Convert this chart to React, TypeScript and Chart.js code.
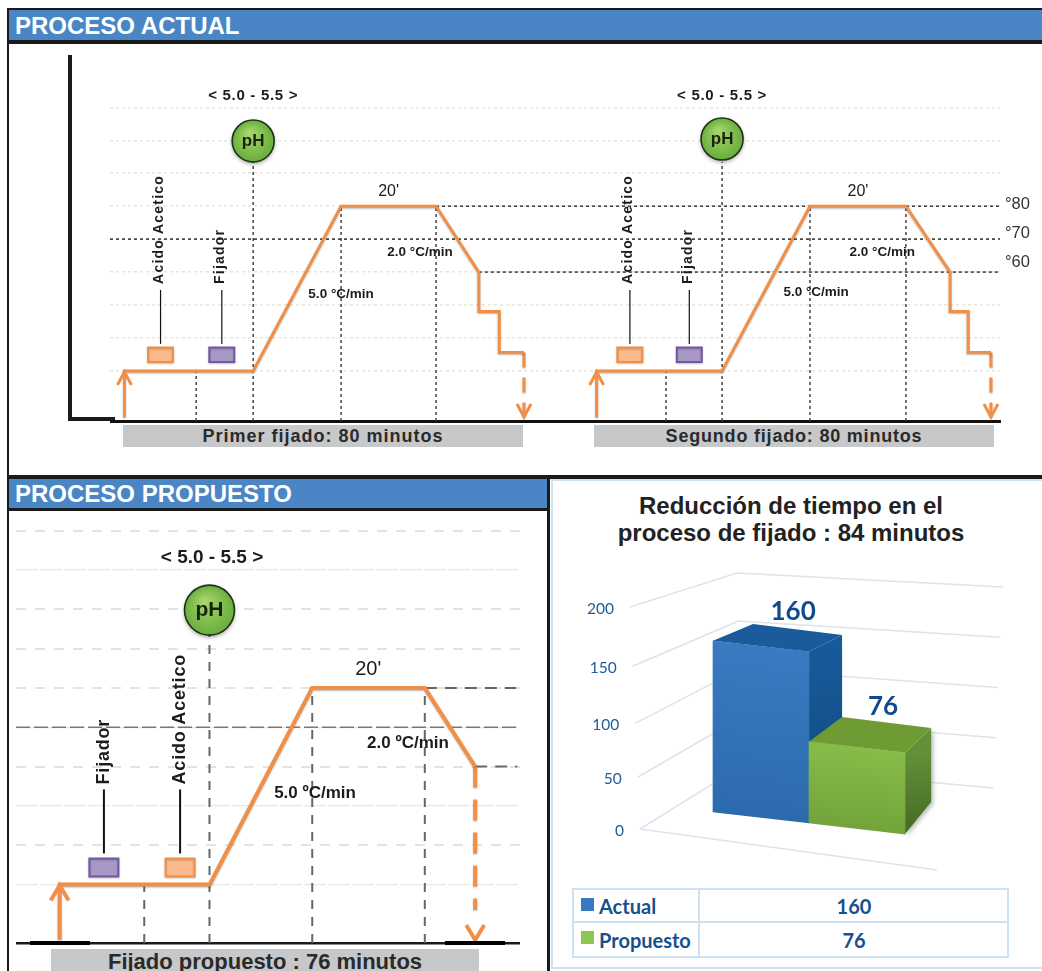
import React, { useEffect, useRef } from "react";
import { Chart, registerables } from "chart.js";

Chart.register(...registerables);

// Temperature profiles: elapsed minutes against bath temperature.
const firstRunMinutes = [0, 27.4, 45.9, 65.9, 74.9, 74.9, 79.2, 79.2, 84.4];
const secondRunMinutes = [99.4, 126.1, 144.6, 164.8, 174.1, 174.1, 177.9, 177.9, 182.7];
const fixingRunTemps = [30, 30, 80, 80, 60, 48, 48, 35.6, 35.6];
const proposedMinutes = [0, 27.1, 45.4, 65.5, 74.5];
const proposedTemps = [30, 30, 80, 80, 60];

// Dark reference levels and vertical guides.
const currentLevelTemps = [80, 80, 70, 60];
const currentLevelStarts = [65.9, 164.8, -2.74, 74.9];
const currentLevelEnds = [144.6, 184.6, 184.6, 184.6];
const currentGuideMinutes = [15.4, 27.4, 45.9, 65.9, 114.3, 126.1, 144.6, 164.8];
const currentGuideTemps = [30, 93.4, 80, 80, 30, 93.4, 80, 80];
const proposedLevelTemps = [80, 70, 60];
const proposedLevelStarts = [65.5, -7.5, 74.5];
const proposedLevelEnds = [81.8, 82.5, 82];
const proposedGuideMinutes = [15.4, 27.05, 45.4, 65.5];
const proposedGuideTemps = [30, 103, 80, 80];

// Dosing and labels.
const reagentNames = ["Acido Acetico", "Fijador"];
const firstRunReagentMinutes = [7.9, 20.8];
const secondRunReagentMinutes = [106.7, 119.2];
const proposedReagentMinutes = [21.8, 8.2];
const phRange = "< 5.0 - 5.5 >";
const heatingRate = "5.0 °C/min";
const coolingRate = "2.0 °C/min";
const proposedHeatingRate = "5.0 ºC/min";
const proposedCoolingRate = "2.0 ºC/min";
const holdLabel = "20'";
const temperatureLabels = ["°80", "°70", "°60"];

// Total process time comparison.
const processNames = ["Actual", "Propuesto"];
const processMinutes = [160, 76];

const ORANGE = "#F08F45";
const SANS = '"Liberation Sans", Arial, sans-serif';
const LATO = "Lato, sans-serif";
const BLUE_TEXT = "#17508F";

type Dosing = { minutes: number[] };
type PanelOptions = {
  xMin: number; xMax: number; yMin: number; yMax: number; gridTop: number; padRight: number;
  runs: { minutes: number[]; temps: number[] }[];
  stemFloor: number; dropFloor: number; dropDash: number[]; lineWidth: number;
  levels: { temps: number[]; starts: number[]; ends: number[] };
  guides: { minutes: number[]; temps: number[] };
  levelStyle: (t: number) => { color: string; dash: number[]; width: number };
  guideStyle: { color: string; dash: number[]; width: number };
  gridStyle: (t: number) => { color: string; dash: number[]; width: number };
  axisWidth: number; axisColor: string;
  dosing: Dosing[];
  kit: any;
  texts: { text: string; m: number; t: number; font: string; spacing?: string }[];
  ph: { m: number; t: number }[];
  rightLabels?: boolean;
};

function chevron(ctx: CanvasRenderingContext2D, x: number, y: number, half: number, len: number, dir: number, width: number) {
  ctx.save();
  ctx.strokeStyle = ORANGE;
  ctx.lineWidth = width;
  ctx.lineJoin = "miter";
  ctx.beginPath();
  ctx.moveTo(x - half, y + dir * len);
  ctx.lineTo(x, y);
  ctx.lineTo(x + half, y + dir * len);
  ctx.stroke();
  ctx.restore();
}

function panelConfig(o: PanelOptions): any {
  const datasets: any[] = [];
  o.runs.forEach((run) => {
    datasets.push({
      label: "run",
      data: run.minutes.map((m, i) => ({ x: m, y: run.temps[i] })),
      borderColor: ORANGE, borderWidth: o.lineWidth, pointRadius: 0, tension: 0,
      borderJoinStyle: "miter", borderCapStyle: "butt",
    });
    const first = run.minutes[0];
    const last = run.minutes[run.minutes.length - 1];
    const lastT = run.temps[run.temps.length - 1];
    datasets.push({
      label: "run",
      data: [{ x: first + 0.3, y: o.stemFloor }, { x: first + 0.3, y: 30 }],
      borderColor: ORANGE, borderWidth: o.lineWidth, pointRadius: 0,
    });
    datasets.push({
      label: "run",
      data: [{ x: last, y: lastT }, { x: last, y: o.dropFloor }],
      borderColor: ORANGE, borderWidth: o.lineWidth, pointRadius: 0, borderDash: o.dropDash,
    });
  });
  o.levels.temps.forEach((t, i) => {
    const s = o.levelStyle(t);
    datasets.push({
      label: "level",
      data: [{ x: o.levels.starts[i], y: t }, { x: o.levels.ends[i], y: t }],
      borderColor: s.color, borderWidth: s.width, borderDash: s.dash, pointRadius: 0,
    });
  });
  o.guides.minutes.forEach((m, i) => {
    datasets.push({
      label: "guide",
      data: [{ x: m, y: o.yMin }, { x: m, y: o.guides.temps[i] }],
      borderColor: o.guideStyle.color, borderWidth: o.guideStyle.width, borderDash: o.guideStyle.dash, pointRadius: 0,
    });
  });

  const decorations = {
    id: "processDecorations",
    beforeDatasetDraw(chart: any, args: any) {
      const ds = chart.data.datasets[args.index];
      chart.ctx.save();
      if (ds.label === "run") {
        chart.ctx.shadowColor = "rgba(0,0,0,0.28)";
        chart.ctx.shadowBlur = 2;
        chart.ctx.shadowOffsetY = 1;
      }
    },
    afterDatasetDraw(chart: any) {
      chart.ctx.restore();
    },
    afterDatasetsDraw(chart: any) {
      const ctx: CanvasRenderingContext2D = chart.ctx;
      const xs = chart.scales.x;
      const ys = chart.scales.y;
      const k = o.kit;
      const base = ys.getPixelForValue(30);

      o.runs.forEach((run) => {
        const last = run.minutes.length - 1;
        chevron(ctx, xs.getPixelForValue(run.minutes[0] + 0.3), base + 1, k.arrowHalf, k.arrowLen, 1, o.lineWidth);
        chevron(ctx, xs.getPixelForValue(run.minutes[last]), ys.getPixelForValue(o.dropFloor) + k.dropTip, k.arrowHalf, k.arrowLen, -1, o.lineWidth);
      });

      o.dosing.forEach((group) => {
        group.minutes.forEach((m, i) => {
          const x = xs.getPixelForValue(m);
          const name = reagentNames[i];
          const isAcid = i === 0;
          ctx.save();
          ctx.fillStyle = isAcid ? "#FBB98C" : "#A898C6";
          ctx.strokeStyle = isAcid ? ORANGE : "#7158A3";
          ctx.lineWidth = 2;
          ctx.shadowColor = "rgba(0,0,0,0.2)";
          ctx.shadowBlur = 2;
          ctx.shadowOffsetY = 1;
          ctx.beginPath();
          ctx.rect(x - k.boxW / 2, base + k.boxTop, k.boxW, k.boxBottom - k.boxTop);
          ctx.fill();
          ctx.stroke();
          ctx.restore();

          ctx.save();
          ctx.strokeStyle = "#111";
          ctx.lineWidth = k.leaderWidth;
          ctx.beginPath();
          ctx.moveTo(x, base + k.leadBottom);
          ctx.lineTo(x, base + k.leadTop);
          ctx.stroke();
          ctx.translate(x - k.nameShift, base + k.nameEnd);
          ctx.rotate(-Math.PI / 2);
          ctx.font = k.nameFont;
          (ctx as any).letterSpacing = k.nameSpacing;
          ctx.fillStyle = "#1c1c1c";
          ctx.textAlign = "left";
          ctx.textBaseline = "middle";
          ctx.fillText(name, 0, 0);
          ctx.restore();
        });
      });

      o.ph.forEach((p) => {
        const x = xs.getPixelForValue(p.m);
        const y = ys.getPixelForValue(p.t);
        ctx.save();
        const g = ctx.createRadialGradient(x - k.phR * 0.2, y - k.phR * 0.4, 1, x, y, k.phR);
        g.addColorStop(0, "#A8D66A");
        g.addColorStop(1, "#68AE3C");
        ctx.shadowColor = "rgba(0,0,0,0.4)";
        ctx.shadowBlur = 4;
        ctx.shadowOffsetY = 2;
        ctx.fillStyle = g;
        ctx.beginPath();
        ctx.arc(x, y, k.phR, 0, Math.PI * 2);
        ctx.fill();
        ctx.shadowColor = "transparent";
        ctx.strokeStyle = "#1D3316";
        ctx.lineWidth = 1.6;
        ctx.stroke();
        ctx.fillStyle = "#16240F";
        ctx.font = k.phFont;
        ctx.textAlign = "center";
        ctx.textBaseline = "middle";
        ctx.fillText("pH", x, y);
        ctx.restore();
      });

      ctx.save();
      ctx.fillStyle = "#1c1c1c";
      ctx.textAlign = "center";
      ctx.textBaseline = "middle";
      o.texts.forEach((t) => {
        ctx.font = t.font;
        (ctx as any).letterSpacing = t.spacing || "0px";
        ctx.fillText(t.text, xs.getPixelForValue(t.m), ys.getPixelForValue(t.t));
      });
      (ctx as any).letterSpacing = "0px";
      if (o.rightLabels) {
        ctx.textAlign = "left";
        ctx.font = `16.5px ${SANS}`;
        ctx.fillStyle = "#333";
        const right = chart.chartArea.right + 5;
        [80.4, 71.6, 62.8].forEach((t, i) => ctx.fillText(temperatureLabels[i], right, ys.getPixelForValue(t)));
      }
      ctx.restore();
    },
  };

  return {
    type: "line",
    data: { datasets },
    options: {
      animation: false,
      responsive: false,
      parsing: true,
      layout: { padding: { left: 0, top: 0, right: o.padRight, bottom: 4 } },
      plugins: { legend: { display: false }, tooltip: { enabled: false } },
      scales: {
        x: {
          type: "linear",
          min: o.xMin,
          max: o.xMax,
          grid: { display: false },
          ticks: { display: false },
          border: { display: true, color: o.axisColor, width: o.axisWidth },
          afterFit: (s: any) => { s.height = 0; },
        },
        y: {
          type: "linear",
          min: o.yMin,
          max: o.yMax,
          afterBuildTicks: (s: any) => {
            s.ticks = s.ticks.filter((t: any) => t.value >= 30 && t.value <= o.gridTop && t.value % 10 === 0);
          },
          afterFit: (s: any) => { s.width = 0; },
          ticks: { display: false, stepSize: 10, autoSkip: false },
          grid: {
            drawTicks: false,
            color: (c: any) => o.gridStyle(c.tick?.value).color,
            lineWidth: (c: any) => o.gridStyle(c.tick?.value).width,
          },
          border: { display: false, dash: (c: any) => o.gridStyle(c.tick?.value).dash },
        },
      },
    },
    plugins: [decorations],
  };
}

const currentPanel = (): any =>
  panelConfig({
    xMin: -2.74, xMax: 184.6, yMin: 14.8, yMax: 127.4, gridTop: 110, padRight: 42,
    runs: [
      { minutes: firstRunMinutes, temps: fixingRunTemps },
      { minutes: secondRunMinutes, temps: fixingRunTemps },
    ],
    stemFloor: 15.9, dropFloor: 16, dropDash: [15, 10], lineWidth: 3,
    levels: { temps: currentLevelTemps, starts: currentLevelStarts, ends: currentLevelEnds },
    guides: { minutes: currentGuideMinutes, temps: currentGuideTemps },
    levelStyle: () => ({ color: "#333", dash: [3, 3], width: 1.5 }),
    guideStyle: { color: "#444", dash: [3, 3], width: 1.5 },
    gridStyle: () => ({ color: "#E7E6D9", dash: [3, 3], width: 1.5 }),
    axisWidth: 3, axisColor: "#111",
    dosing: [{ minutes: firstRunReagentMinutes }, { minutes: secondRunReagentMinutes }],
    kit: {
      arrowHalf: 7, arrowLen: 13, dropTip: 0, boxW: 25, boxTop: -23.5, boxBottom: -9,
      leadBottom: -27, leadTop: -81, leaderWidth: 1.2, nameEnd: -87, nameShift: 1.5,
      nameFont: `bold 14px ${SANS}`, nameSpacing: "1.2px", phR: 21, phFont: `bold 17px ${SANS}`,
    },
    texts: [
      { text: phRange, m: 27.4, t: 113.4, font: `bold 15px ${SANS}`, spacing: "0.7px" },
      { text: phRange, m: 126.1, t: 113.4, font: `bold 15px ${SANS}`, spacing: "0.7px" },
      { text: holdLabel, m: 55.9, t: 84.4, font: `16px ${SANS}` },
      { text: holdLabel, m: 154.7, t: 84.4, font: `16px ${SANS}` },
      { text: coolingRate, m: 62.5, t: 66, font: `bold 13.5px ${SANS}` },
      { text: coolingRate, m: 159.8, t: 66, font: `bold 13.5px ${SANS}` },
      { text: heatingRate, m: 45.9, t: 53.3, font: `bold 13.5px ${SANS}` },
      { text: heatingRate, m: 145.9, t: 53.9, font: `bold 13.5px ${SANS}` },
    ],
    ph: [{ m: 27.4, t: 99.8 }, { m: 126.1, t: 100.4 }],
    rightLabels: true,
  });

const proposedPanel = (): any =>
  panelConfig({
    xMin: -7.5, xMax: 82.5, yMin: 15.1, yMax: 124, gridTop: 120, padRight: 0,
    runs: [{ minutes: proposedMinutes, temps: proposedTemps }],
    stemFloor: 15.9, dropFloor: 23.5, dropDash: [21, 12], lineWidth: 4,
    levels: { temps: proposedLevelTemps, starts: proposedLevelStarts, ends: proposedLevelEnds },
    guides: { minutes: proposedGuideMinutes, temps: proposedGuideTemps },
    levelStyle: (t) =>
      t === 70 ? { color: "#777", dash: [14, 4], width: 1.5 } : { color: "#666", dash: [12, 8], width: 2 },
    guideStyle: { color: "#666", dash: [9, 8], width: 2 },
    gridStyle: (t) => {
      const thin = t === 110 || t === 50 || t === 30 || t === 70;
      return thin
        ? { color: "#E9E8DC", dash: [22, 2], width: 1.2 }
        : { color: "#E6E4D6", dash: [10, 9], width: 2 };
    },
    axisWidth: 2.5, axisColor: "#1a1a1a",
    dosing: [{ minutes: proposedReagentMinutes }],
    kit: {
      arrowHalf: 9, arrowLen: 15, dropTip: 30, boxW: 29, boxTop: -26, boxBottom: -8,
      leadBottom: -31, leadTop: -95, leaderWidth: 2, nameEnd: -100, nameShift: 0,
      nameFont: `bold 18px ${SANS}`, nameSpacing: "0.8px", phR: 25, phFont: `bold 21px ${SANS}`,
    },
    texts: [
      { text: phRange, m: 27.5, t: 113.1, font: `bold 19px ${SANS}` },
      { text: holdLabel, m: 55.4, t: 84.8, font: `20px ${SANS}` },
      { text: proposedCoolingRate, m: 62.5, t: 66, font: `bold 17px ${SANS}` },
      { text: proposedHeatingRate, m: 45.9, t: 53.3, font: `bold 17px ${SANS}` },
    ],
    ph: [{ m: 27.05, t: 99.8 }],
  });

// Oblique bar chart: the library draws the front faces under a shear,
// the plugin adds the top and side faces and the receding grid.
const SHEAR = 0.115;
const CANVAS_LEFT = 570;
const CANVAS_TOP = 560;
const BASE_PAGE_X = 809;

const shearY = (x: number, y: number) => y + SHEAR * (x - (BASE_PAGE_X - CANVAS_LEFT));
const depth = (x: number, value: number) => ({
  dx: 40 - (x + CANVAS_LEFT - 713) * 0.072,
  dy: -32 + 0.095 * value,
});

function mix(a: number[], b: number[], t: number) {
  return [a[0] + (b[0] - a[0]) * t, a[1] + (b[1] - a[1]) * t];
}

function poly(ctx: CanvasRenderingContext2D, pts: number[][], fill: any) {
  ctx.fillStyle = fill;
  ctx.beginPath();
  pts.forEach((p, i) => (i ? ctx.lineTo(p[0], p[1]) : ctx.moveTo(p[0], p[1])));
  ctx.closePath();
  ctx.fill();
}

const frontFill = (c: any) => {
  const g = c.chart.ctx.createLinearGradient(0, 60, 0, 290);
  if (c.dataIndex === 0) {
    g.addColorStop(0, "#3C7DC4");
    g.addColorStop(1, "#2968AA");
  } else {
    g.addColorStop(0.35, "#92C850");
    g.addColorStop(1, "#6C9C37");
  }
  return g;
};

// The near edge of the side wall foreshortens slightly towards the top.
const nearEdgeFraction = (f: number) => f - 0.04 * Math.sin(Math.PI * f) * 0.6;

const barFaces = {
  id: "barFaces",
  beforeDatasetsDraw(chart: any) {
    const ctx: CanvasRenderingContext2D = chart.ctx;
    const ys = chart.scales.y;
    const page = (p: number[]) => [p[0] - CANVAS_LEFT, p[1] - CANVAS_TOP];
    const frontLeft = [page([640, 829]), page([630, 607])];
    const backLeft = [page([743, 765]), page([737, 573])];
    const backRight = [page([993, 788]), page([1003, 587])];
    ctx.save();
    ctx.strokeStyle = "#DDE2EC";
    ctx.lineWidth = 1.5;
    ys.ticks.forEach((tick: any) => {
      const f = tick.value / 200;
      const a = mix(frontLeft[0], frontLeft[1], nearEdgeFraction(f));
      const b = mix(backLeft[0], backLeft[1], f);
      const c = mix(backRight[0], backRight[1], f);
      ctx.beginPath();
      ctx.moveTo(a[0], a[1]);
      ctx.lineTo(b[0], b[1]);
      ctx.lineTo(c[0], c[1]);
      ctx.stroke();
      ctx.save();
      ctx.fillStyle = "#1F5C99";
      ctx.font = `15.5px ${LATO}`;
      ctx.textAlign = "right";
      ctx.textBaseline = "middle";
      ctx.fillText(String(tick.value), a[0] - 16, a[1] + 1.5);
      ctx.restore();
    });
    const floorEnd = page([937, 870]);
    ctx.beginPath();
    ctx.moveTo(frontLeft[0][0], frontLeft[0][1]);
    ctx.lineTo(floorEnd[0], floorEnd[1]);
    ctx.stroke();
    ctx.restore();

    const meta = chart.getDatasetMeta(0);
    meta.data.forEach((bar: any, i: number) => {
      const value = processMinutes[i];
      const l = bar.x - bar.width / 2;
      const r = bar.x + bar.width / 2;
      const top = bar.y;
      const base = bar.base;
      const dL = depth(l, value);
      const dR = depth(r, value);
      const dB = depth(r, 0);
      const tl = [l, shearY(l, top)];
      const tr = [r, shearY(r, top)];
      const br = [r, shearY(r, base)];
      const topFace = [tl, tr, [r + dR.dx, tr[1] + dR.dy], [l + dL.dx, tl[1] + dL.dy]];
      const sideFace = [tr, br, [r + dB.dx, br[1] + dB.dy], [r + dR.dx, tr[1] + dR.dy]];
      const side = ctx.createLinearGradient(0, tr[1], 0, br[1]);
      side.addColorStop(0, i === 0 ? "#175A99" : "#64903A");
      side.addColorStop(1, i === 0 ? "#10487E" : "#456A24");
      ctx.save();
      if (i === 1) {
        ctx.shadowColor = "rgba(60,70,50,0.35)";
        ctx.shadowBlur = 4;
        ctx.shadowOffsetX = 2;
        ctx.shadowOffsetY = 2;
      }
      poly(ctx, sideFace, side);
      ctx.restore();
      poly(ctx, topFace, i === 0 ? "#1B5B9C" : "#6F9B35");
    });
  },
  beforeDatasetDraw(chart: any) {
    const ctx = chart.ctx;
    ctx.save();
    const x0 = BASE_PAGE_X - CANVAS_LEFT;
    ctx.transform(1, SHEAR, 0, 1, 0, -SHEAR * x0);
  },
  afterDatasetDraw(chart: any) {
    chart.ctx.restore();
  },
  afterDatasetsDraw(chart: any) {
    const ctx: CanvasRenderingContext2D = chart.ctx;
    const meta = chart.getDatasetMeta(0);
    ctx.save();
    ctx.fillStyle = "#114B8A";
    ctx.font = `bold 26px ${LATO}`;
    ctx.textAlign = "center";
    ctx.textBaseline = "middle";
    meta.data.forEach((bar: any, i: number) => {
      const v = processMinutes[i];
      const d = depth(bar.x, v);
      ctx.fillText(String(v), bar.x + d.dx * 0.88, shearY(bar.x, bar.y) + d.dy - (14 + v * 0.025));
    });
    ctx.restore();
  },
};

const comparisonChart = (): any => ({
  type: "bar",
  data: {
    labels: processNames,
    datasets: [
      {
        data: processMinutes,
        backgroundColor: frontFill,
        borderWidth: 0,
        categoryPercentage: 1,
        barPercentage: 1,
        clip: false,
      },
    ],
  },
  options: {
    animation: false,
    responsive: false,
    layout: { padding: { left: 143, right: 125, top: 49, bottom: 57 } },
    plugins: { legend: { display: false }, tooltip: { enabled: false } },
    scales: {
      x: { display: false },
      y: { display: false, min: 0, max: 200, ticks: { stepSize: 50 } },
    },
  },
  plugins: [barFaces],
});

function ChartCanvas({ left, top, width, height, build }: { left: number; top: number; width: number; height: number; build: () => any }) {
  const ref = useRef<HTMLCanvasElement>(null);
  useEffect(() => {
    const chart = new Chart(ref.current as HTMLCanvasElement, build());
    return () => chart.destroy();
  }, []);
  return <canvas ref={ref} width={width} height={height} style={{ position: "absolute", left, top, width, height, display: "block" }} />;
}

const Box = ({ l, t, w, h, c }: { l: number; t: number; w: number; h: number; c: string }) => (
  <div style={{ position: "absolute", left: l, top: t, width: w, height: h, background: c }} />
);

const Caption = ({ l, t, w, h, text, size, spacing, line }: { l: number; t: number; w: number; h: number; text: string; size: number; spacing: number; line?: number }) => (
  <div
    style={{
      position: "absolute", left: l, top: t, width: w, height: h, lineHeight: `${line || h}px`, background: "#C6C8CA",
      textAlign: "center", fontFamily: SANS, fontWeight: 700, fontSize: size, letterSpacing: spacing, color: "#2A2A2A", overflow: "hidden",
    }}
  >
    {text}
  </div>
);

const Header = ({ l, t, w, h, text }: { l: number; t: number; w: number; h: number; text: string }) => (
  <div
    style={{
      position: "absolute", left: l, top: t, width: w, height: h, lineHeight: `${h + 1}px`, background: "#4A86C5",
      color: "#fff", fontFamily: SANS, fontWeight: 700, fontSize: 24, paddingLeft: 6, boxSizing: "border-box", whiteSpace: "nowrap",
    }}
  >
    {text}
  </div>
);

const Cell = ({ l, t, w, text, align }: { l: number; t: number; w: number; text: string; align: "left" | "center" }) => (
  <div
    style={{
      position: "absolute", left: l, top: t, width: w, height: 34, lineHeight: "34px", textAlign: align,
      fontFamily: LATO, fontWeight: 700, fontSize: 20, color: BLUE_TEXT, whiteSpace: "nowrap",
    }}
  >
    {text}
  </div>
);

export default function App() {
  const tableLine = "#CFE0F0";
  return (
    <div style={{ position: "absolute", left: 0, top: 0, width: 1042, height: 971, overflow: "hidden", background: "#fff" }}>
      {/* Frame of the upper section */}
      <Box l={7} t={8} w={1035} h={2} c="#1a1a1a" />
      <Box l={7} t={8} w={2} h={963} c="#1a1a1a" />
      <Header l={9} t={10} w={1033} h={30} text="PROCESO ACTUAL" />
      <Box l={9} t={40} w={1033} h={4} c="#1a1a1a" />
      <Box l={9} t={475} w={1033} h={4} c="#1a1a1a" />

      {/* Axis of the upper section */}
      <Box l={68} t={55} w={4} h={366} c="#1a1a1a" />
      <Box l={68} t={417} w={47} h={4} c="#1a1a1a" />
      <ChartCanvas left={110} top={50} width={932} height={375} build={currentPanel} />
      <Caption l={123} t={425} w={400} h={22} text="Primer fijado: 80 minutos" size={18} spacing={1} />
      <Caption l={594} t={425} w={400} h={22} text="Segundo fijado: 80 minutos" size={18} spacing={0.8} />

      {/* Proposed process */}
      <Header l={9} t={479} w={538} h={29} text="PROCESO PROPUESTO" />
      <Box l={9} t={508} w={538} h={3} c="#1a1a1a" />
      <Box l={547} t={479} w={3} h={492} c="#1a1a1a" />
      <ChartCanvas left={16} top={515} width={504} height={432} build={proposedPanel} />
      <Box l={30} t={941} w={60} h={4} c="#000" />
      <Box l={445} t={941} w={60} h={4} c="#000" />
      <Caption l={51} t={949} w={428} h={22} line={26} text="Fijado propuesto : 76 minutos" size={22} spacing={0} />

      {/* Time reduction */}
      <div style={{ position: "absolute", left: 551, top: 479, width: 495, height: 490, boxSizing: "border-box", border: `2px solid ${tableLine}` }} />
      <div
        style={{
          position: "absolute", left: 551, top: 492, width: 480, textAlign: "center", fontFamily: SANS, fontWeight: 700,
          fontSize: 24, lineHeight: "27px", color: "#222",
        }}
      >
        Reducción de tiempo en el
        <br />
        proceso de fijado : 84 minutos
      </div>
      <ChartCanvas left={CANVAS_LEFT} top={CANVAS_TOP} width={460} height={320} build={comparisonChart} />

      {/* Data table below the bars */}
      <div style={{ position: "absolute", left: 572, top: 888, width: 437, height: 70, boxSizing: "border-box", border: `2px solid ${tableLine}` }} />
      <Box l={572} t={921} w={437} h={2} c={tableLine} />
      <Box l={698} t={888} w={2} h={70} c={tableLine} />
      <Box l={581} t={898} w={13} h={13} c="#3A78BF" />
      <Box l={581} t={931} w={13} h={13} c="#8FC650" />
      <Cell l={599} t={889} w={100} text={processNames[0]} align="left" />
      <Cell l={599} t={923} w={100} text={processNames[1]} align="left" />
      <Cell l={700} t={889} w={308} text={String(processMinutes[0])} align="center" />
      <Cell l={700} t={923} w={308} text={String(processMinutes[1])} align="center" />
    </div>
  );
}
